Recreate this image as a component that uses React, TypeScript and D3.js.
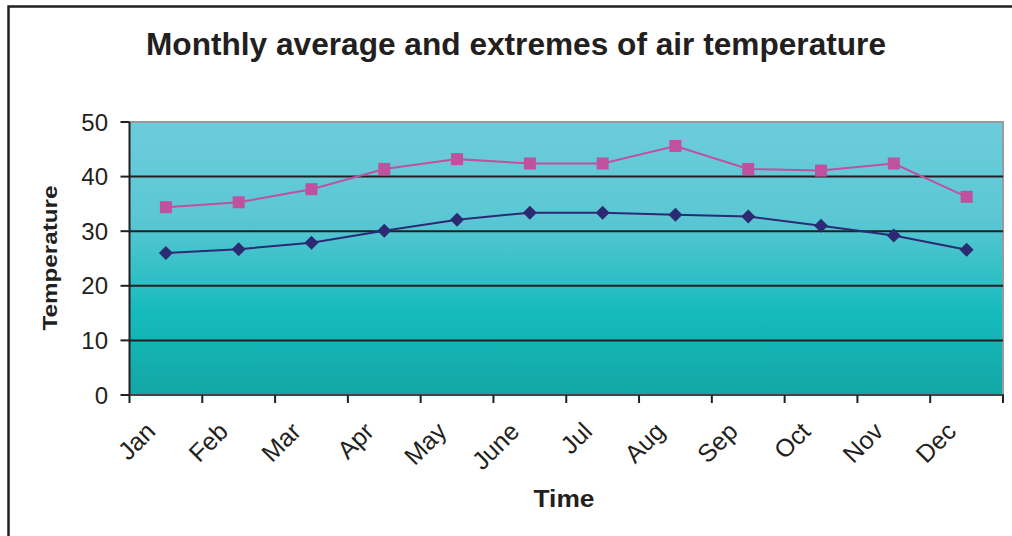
import React from "react";
import * as d3 from "d3";

const months = ["Jan", "Feb", "Mar", "Apr", "May", "June", "Jul", "Aug", "Sep", "Oct", "Nov", "Dec"];
const extremeValues = [34.4, 35.3, 37.7, 41.4, 43.2, 42.4, 42.4, 45.6, 41.4, 41.1, 42.4, 36.3];
const averageValues = [26.0, 26.7, 27.9, 30.1, 32.1, 33.4, 33.4, 33.0, 32.7, 31.0, 29.2, 26.6];
const yTicks = [0, 10, 20, 30, 40, 50];

const W = 1012;
const H = 536;
const L = 129.5, R = 1003, T = 122, B = 395;
const ink = "#231F20";
const font = "Liberation Sans, Arial, Helvetica, sans-serif";

export default function App() {
  const x = d3.scaleBand<string>().domain(months).range([L, R]).paddingInner(0).paddingOuter(0);
  const y = d3.scaleLinear().domain([0, 50]).range([B, T]);
  const cx = (m: string) => (x(m) as number) + x.bandwidth() / 2;
  const line = d3.line<number>().x((_, i) => cx(months[i])).y((v) => y(v));
  const edges = months.map((m) => x(m) as number).concat([R]);

  return (
    <svg width={W} height={H} style={{ position: "absolute", left: 0, top: 0, background: "#fff" }} fontFamily={font}>
      <defs>
        <linearGradient id="bg" x1="0" y1="0" x2="0" y2="1">
          <stop offset="0" stopColor="#6CCCDC" />
          <stop offset="0.35" stopColor="#5CC7D4" />
          <stop offset="0.7" stopColor="#15BBBC" />
          <stop offset="1" stopColor="#13A6A5" />
        </linearGradient>
      </defs>
      <rect x={8.5} y={6.5} width={1020} height={540} fill="none" stroke={ink} strokeWidth={2.5} />
      <text x={516} y={55} textAnchor="middle" fontSize={30.5} fontWeight="bold" fill={ink}
        textLength={740} lengthAdjust="spacingAndGlyphs">
        Monthly average and extremes of air temperature
      </text>
      <rect x={L} y={T} width={R - L} height={B - T} fill="url(#bg)" />
      <path d={`M${L},${T}H${R}V${B}`} fill="none" stroke="#9A9A9A" strokeWidth={2} />
      {yTicks.filter((t) => t > 0 && t < 50).map((t) => (
        <line key={t} x1={L} x2={R} y1={y(t)} y2={y(t)} stroke={ink} strokeWidth={2} />
      ))}
      <line x1={L} x2={L} y1={T} y2={B} stroke={ink} strokeWidth={2} />
      <line x1={L - 1} x2={R + 1} y1={B} y2={B} stroke="#444" strokeWidth={2} />
      {yTicks.map((t) => (
        <g key={t}>
          <line x1={L - 9} x2={L} y1={y(t)} y2={y(t)} stroke={ink} strokeWidth={2} />
          <text x={108} y={y(t) + 8.5} textAnchor="end" fontSize={24} fill={ink}>{t}</text>
        </g>
      ))}
      {edges.map((e, i) => (
        <line key={i} x1={e} x2={e} y1={B} y2={B + 8} stroke={ink} strokeWidth={2} />
      ))}
      {months.map((m) => (
        <text
          key={m}
          transform={`translate(${cx(m) - 9},${B + 38}) rotate(-45)`}
          textAnchor="end"
          fontSize={25}
          fill={ink}
        >
          {m}
        </text>
      ))}
      <text x={564} y={507} textAnchor="middle" fontSize={23} fontWeight="bold" fill={ink}
        textLength={61} lengthAdjust="spacingAndGlyphs">Time</text>
      <text transform={`translate(57,258) rotate(-90)`} textAnchor="middle" fontSize={20} fontWeight="bold" fill={ink}
        textLength={145} lengthAdjust="spacingAndGlyphs">
        Temperature
      </text>
      <path d={line(extremeValues) as string} fill="none" stroke="#C0519F" strokeWidth={2} />
      <path d={line(averageValues) as string} fill="none" stroke="#2B2A73" strokeWidth={2} />
      {extremeValues.map((v, i) => (
        <rect key={i} x={cx(months[i]) - 6} y={y(v) - 6} width={12} height={12} fill="#C0519F" />
      ))}
      {averageValues.map((v, i) => (
        <path
          key={i}
          d={`M${cx(months[i])},${y(v) - 7}l7,7l-7,7l-7,-7z`}
          fill="#2B2A73"
        />
      ))}
    </svg>
  );
}
